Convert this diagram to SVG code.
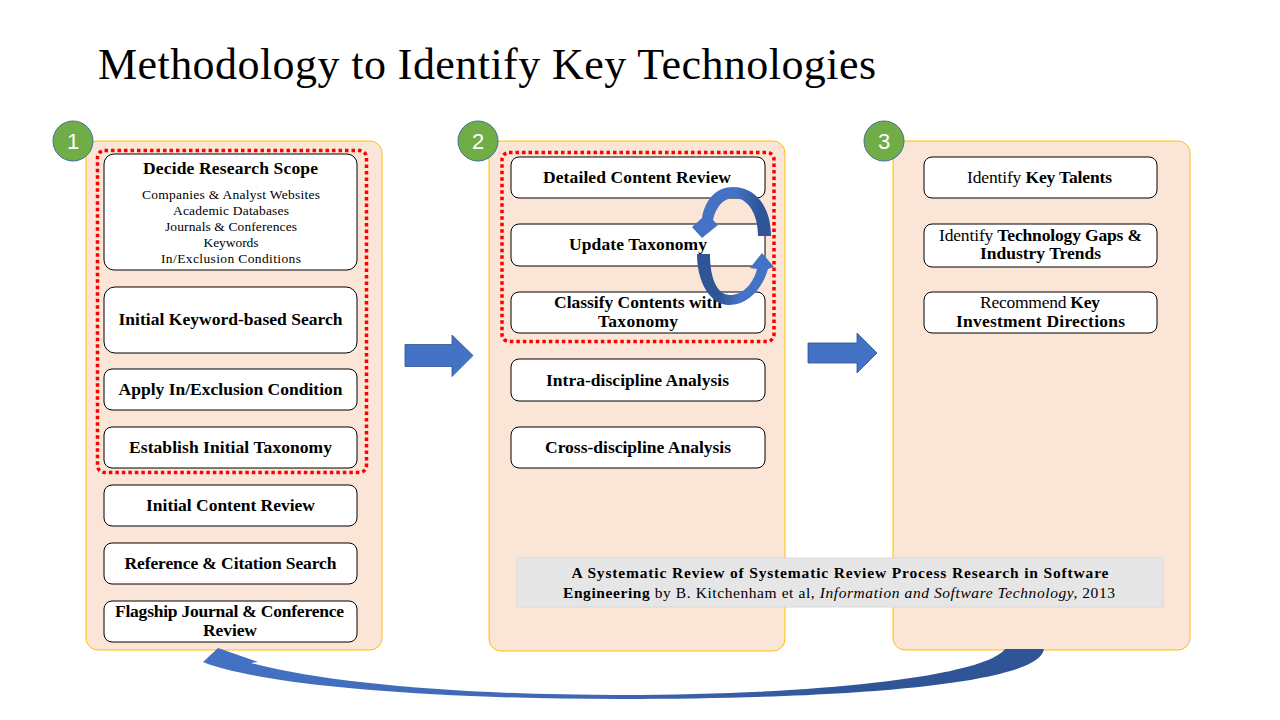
<svg xmlns="http://www.w3.org/2000/svg" width="1280" height="720" viewBox="0 0 1280 720">
<defs>
<style>
.panel{fill:#FBE5D6;stroke:#FFC000;stroke-width:1}
.box{fill:#FFFFFF;stroke:#000000;stroke-width:1}
.dots{fill:none;stroke:#FF0000;stroke-width:3.5;stroke-dasharray:3.5 3}
.num{fill:#70AD47;stroke:#41719C;stroke-width:1}
.numt{font-family:"Liberation Sans","DejaVu Sans",sans-serif;font-size:22px;fill:#FFFFFF;text-anchor:middle}
.t{font-family:"Liberation Serif","DejaVu Serif",serif;fill:#000000;text-anchor:middle}
.b{font-weight:bold;font-size:17.5px}
.s{font-size:13.5px}
.n{font-size:17.5px}
.blk{fill:#4472C4;stroke:#2F528F;stroke-width:0.8}
</style>
<linearGradient id="gUp" gradientUnits="userSpaceOnUse" x1="693" y1="0" x2="771" y2="0">
<stop offset="0" stop-color="#4472C4"/><stop offset="0.55" stop-color="#4472C4"/><stop offset="0.85" stop-color="#2F5597"/><stop offset="1" stop-color="#2F5597"/>
</linearGradient>
<linearGradient id="gDn" gradientUnits="userSpaceOnUse" x1="697" y1="0" x2="773" y2="0">
<stop offset="0" stop-color="#2F5597"/><stop offset="0.3" stop-color="#2F5597"/><stop offset="0.55" stop-color="#4472C4"/><stop offset="1" stop-color="#4472C4"/>
</linearGradient>
<linearGradient id="gBot" gradientUnits="userSpaceOnUse" x1="203" y1="0" x2="1044" y2="0">
<stop offset="0" stop-color="#4472C4"/><stop offset="0.45" stop-color="#3F67B3"/><stop offset="0.8" stop-color="#2F5597"/><stop offset="1" stop-color="#2F5597"/>
</linearGradient>
</defs>
<rect x="0" y="0" width="1280" height="720" fill="#FFFFFF"/>

<text id="title" x="98" y="79" font-family="'Liberation Serif','DejaVu Serif',serif" font-size="44" textLength="778" lengthAdjust="spacing" fill="#000000">Methodology to Identify Key Technologies</text>

<!-- Panels -->
<g id="panel1">
<rect class="panel" x="86" y="141" width="296" height="509" rx="12"/>
</g>
<g id="panel2">
<rect class="panel" x="489" y="141" width="296" height="510" rx="12"/>
</g>
<g id="panel3">
<rect class="panel" x="893" y="141" width="297" height="509" rx="12"/>
</g>

<g id="citation">
<rect x="517" y="558" width="646" height="49" fill="#E7E6E6" stroke="#D9D9D9" stroke-width="1"/>
<text class="t" x="840" y="578" font-size="15.5" font-weight="bold" textLength="537" lengthAdjust="spacing">A Systematic Review of Systematic Review Process Research in Software</text>
<text class="t" x="839" y="598" font-size="15.5" textLength="552" lengthAdjust="spacing"><tspan font-weight="bold">Engineering</tspan> by B. Kitchenham et al, <tspan font-style="italic">Information and Software Technology,</tspan> 2013</text>
</g>

<!-- Step badges -->
<g id="badge1"><circle class="num" cx="73" cy="141" r="20"/><text class="numt" x="73" y="149">1</text></g>
<g id="badge2"><circle class="num" cx="478" cy="141" r="20"/><text class="numt" x="478" y="149">2</text></g>
<g id="badge3"><circle class="num" cx="884" cy="141" r="20"/><text class="numt" x="884" y="149">3</text></g>

<!-- Panel 1 nodes -->
<g id="decide-scope">
<rect class="box" x="104" y="154" width="253" height="116" rx="10"/>
<text class="t b" x="230.5" y="174" textLength="175" lengthAdjust="spacing">Decide Research Scope</text>
<text class="t s" x="231" y="199" textLength="178" lengthAdjust="spacing">Companies &amp; Analyst Websites</text>
<text class="t s" x="231" y="215" textLength="116" lengthAdjust="spacing">Academic Databases</text>
<text class="t s" x="231" y="231" textLength="132" lengthAdjust="spacing">Journals &amp; Conferences</text>
<text class="t s" x="231" y="247" textLength="55" lengthAdjust="spacing">Keywords</text>
<text class="t s" x="231" y="263" textLength="140" lengthAdjust="spacing">In/Exclusion Conditions</text>
</g>
<g id="keyword-search">
<rect class="box" x="104" y="287" width="253" height="66" rx="11"/>
<text class="t b" x="230.5" y="325" textLength="224" lengthAdjust="spacing">Initial Keyword-based Search</text>
</g>
<g id="apply-condition">
<rect class="box" x="104" y="369" width="253" height="41" rx="8"/>
<text class="t b" x="230.5" y="395" textLength="224" lengthAdjust="spacing">Apply In/Exclusion Condition</text>
</g>
<g id="initial-taxonomy">
<rect class="box" x="104" y="427" width="253" height="41" rx="8"/>
<text class="t b" x="230.5" y="453" textLength="203" lengthAdjust="spacing">Establish Initial Taxonomy</text>
</g>
<rect id="scope-group1" class="dots" x="97.5" y="150.5" width="269" height="322" rx="7"/>
<g id="initial-content-review">
<rect class="box" x="104" y="485" width="253" height="41" rx="8"/>
<text class="t b" x="230.5" y="511" textLength="169" lengthAdjust="spacing">Initial Content Review</text>
</g>
<g id="citation-search">
<rect class="box" x="104" y="543" width="253" height="41" rx="8"/>
<text class="t b" x="230.5" y="569" textLength="212" lengthAdjust="spacing">Reference &amp; Citation Search</text>
</g>
<g id="flagship-review">
<rect class="box" x="104" y="601" width="253" height="41" rx="8"/>
<text class="t b" x="229.5" y="617" textLength="229" lengthAdjust="spacing">Flagship Journal &amp; Conference</text>
<text class="t b" x="230" y="636" textLength="54" lengthAdjust="spacing">Review</text>
</g>

<!-- Panel 2 nodes -->
<g id="detailed-review">
<rect class="box" x="511" y="157" width="254" height="41" rx="8"/>
<text class="t b" x="637" y="183" textLength="188" lengthAdjust="spacing">Detailed Content Review</text>
</g>
<g id="update-taxonomy">
<rect class="box" x="511" y="224" width="254" height="42" rx="8"/>
<text class="t b" x="638" y="250" textLength="138" lengthAdjust="spacing">Update Taxonomy</text>
</g>
<g id="classify-contents">
<rect class="box" x="511" y="292" width="254" height="41" rx="8"/>
<text class="t b" x="638" y="308" textLength="168" lengthAdjust="spacing">Classify Contents with</text>
<text class="t b" x="638" y="327" textLength="80" lengthAdjust="spacing">Taxonomy</text>
</g>
<rect id="scope-group2" class="dots" x="502" y="152.5" width="272" height="189" rx="7"/>
<g id="intra-analysis">
<rect class="box" x="511" y="359" width="254" height="42" rx="8"/>
<text class="t b" x="637.5" y="386" textLength="183" lengthAdjust="spacing">Intra-discipline Analysis</text>
</g>
<g id="cross-analysis">
<rect class="box" x="511" y="427" width="254" height="41" rx="8"/>
<text class="t b" x="638" y="453" textLength="186" lengthAdjust="spacing">Cross-discipline Analysis</text>
</g>

<!-- Panel 3 nodes -->
<g id="key-talents">
<rect class="box" x="924" y="157" width="233" height="41" rx="8"/>
<text class="t n" x="1039.5" y="183" textLength="145" lengthAdjust="spacing">Identify <tspan font-weight="bold">Key Talents</tspan></text>
</g>
<g id="tech-gaps">
<rect class="box" x="924" y="224" width="233" height="43" rx="8"/>
<text class="t n" x="1040.5" y="241" textLength="203" lengthAdjust="spacing">Identify <tspan font-weight="bold">Technology Gaps &amp;</tspan></text>
<text class="t b" x="1040.5" y="259" textLength="121" lengthAdjust="spacing">Industry Trends</text>
</g>
<g id="investment">
<rect class="box" x="924" y="292" width="233" height="41" rx="8"/>
<text class="t n" x="1040" y="308" textLength="120" lengthAdjust="spacing">Recommend <tspan font-weight="bold">Key</tspan></text>
<text class="t b" x="1040.5" y="327" textLength="169" lengthAdjust="spacing">Investment Directions</text>
</g>

<!-- Connectors -->
<g id="connectors">
<path class="blk" d="M405,344.5 L452,344.5 L452,335 L473,355.5 L452,376.5 L452,366.5 L405,366.5 Z"/>
<path class="blk" d="M808,343 L857,343 L857,333 L877,353 L857,373 L857,363 L808,363 Z"/>
<path d="M771,236 C771,205 754,187 733,187 C716,187 705,200 702,218 L692,227 L702,238 L718,225 L713,220 C716,206 724,198 734,198 C748,198 758,214 758,236 Z" fill="url(#gUp)"/>
<path d="M697,254 C697,285 712,305 729,305 C747,305 762,290 768,269 L774,267 L762,253 L750,268 L757,269 C753,285 742,295 730,295 C718,295 710,280 710,254 Z" fill="url(#gDn)"/>
<path d="M203,662 L218,648 L258,662 L251,663 C330,684 470,695 620,695 C820,695 985,676 1005,649 L1044,649 C1040,683 860,699 620,699 C430,699 260,685 203,662 Z" fill="url(#gBot)"/>
</g>
</svg>
